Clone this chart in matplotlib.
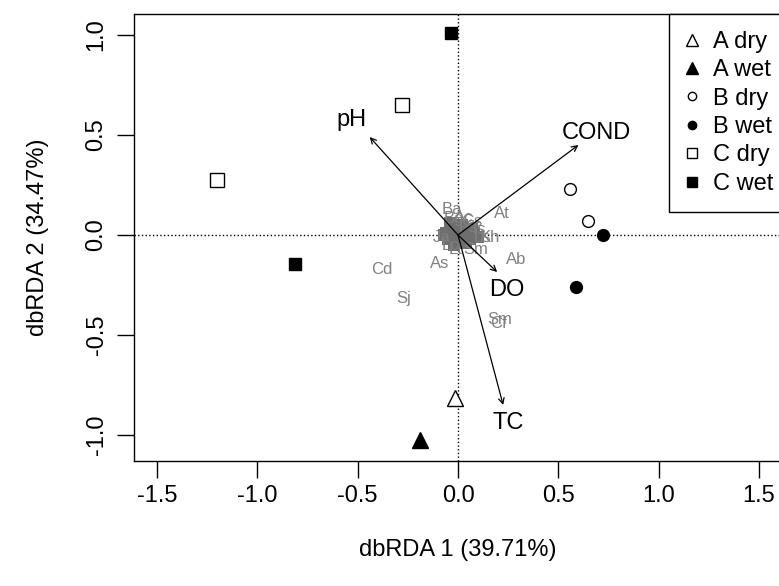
import matplotlib
matplotlib.use("Agg")
import matplotlib.pyplot as plt
from matplotlib.lines import Line2D

plt.rcParams['font.family'] = ['Liberation Sans', 'DejaVu Sans']

# sites
a_dry_x = [-0.015]
a_dry_y = [-0.815]
a_wet_x = [-0.19]
a_wet_y = [-1.025]
b_dry_x = [0.56, 0.65]
b_dry_y = [0.23, 0.07]
b_wet_x = [0.72, 0.59]
b_wet_y = [0.0, -0.26]
c_dry_x = [-1.20, -0.28]
c_dry_y = [0.275, 0.65]
c_wet_x = [-0.035, -0.81]
c_wet_y = [1.01, -0.145]

# environmental vectors
env_names = ["pH", "COND", "DO", "TC"]
env_x = [-0.44, 0.60, 0.195, 0.225]
env_y = [0.49, 0.45, -0.185, -0.85]
env_lab_x = [-0.53, 0.69, 0.245, 0.25]
env_lab_y = [0.575, 0.51, -0.275, -0.94]

# species scores (cluster near origin)
sp_x = [-0.06, -0.04, -0.02, 0.0, 0.02, 0.04, 0.06, -0.05, -0.03, -0.01,
        0.01, 0.03, 0.05, 0.08, -0.07, 0.0, 0.02, 0.10, -0.02, 0.04, 0.07, -0.04]
sp_y = [0.01, 0.03, -0.01, 0.02, 0.0, 0.01, -0.02, -0.02, 0.0, 0.04,
        -0.03, 0.03, 0.0, 0.01, 0.0, -0.04, 0.05, -0.01, -0.05, -0.04, 0.03, 0.06]
sp_names = ["Cd", "Sj", "As", "Ab", "At", "Kh", "Sm", "Cf", "Ba", "Ja",
            "Sm", "Ls", "Lt", "Ac", "Gs", "Bg", "Ps", "Ts", "Lc"]
sp_lab_x = [-0.38, -0.27, -0.09, 0.29, 0.22, 0.16, 0.21, 0.20, -0.03, -0.08,
            0.09, 0.12, -0.01, 0.03, 0.07, -0.02, 0.05, 0.10, -0.04]
sp_lab_y = [-0.17, -0.315, -0.14, -0.125, 0.11, -0.01, -0.425, -0.445, 0.13, -0.01,
            -0.075, -0.01, -0.07, 0.09, 0.07, 0.08, 0.04, 0.03, -0.05]

fig = plt.figure(figsize=(7.79, 5.86), dpi=100)
ax = fig.add_axes([134 / 779, 1 - 461 / 586, (782 - 134) / 779, (461 - 14) / 586])

ax.axhline(0, color='black', ls=':', lw=1, zorder=1)
ax.axvline(0, color='black', ls=':', lw=1, zorder=1)

ax.scatter(sp_x, sp_y, marker='s', s=70, color='#6e6e6e', edgecolors='none', zorder=2)
for n, x, y in zip(sp_names, sp_lab_x, sp_lab_y):
    ax.text(x, y, n, color='#808080', fontsize=12, ha='center', va='center', zorder=2)

for n, x, y, lx, ly in zip(env_names, env_x, env_y, env_lab_x, env_lab_y):
    ax.annotate("", xy=(x, y), xytext=(0, 0),
                arrowprops=dict(arrowstyle='->', color='black', lw=0.9,
                                mutation_scale=10, shrinkA=0, shrinkB=0), zorder=3)
    ax.text(lx, ly, n, fontsize=17, ha='center', va='center', zorder=3)

ax.plot(a_dry_x, a_dry_y, '^', ms=12, mfc='white', mec='black', mew=1, ls='none', zorder=4)
ax.plot(a_wet_x, a_wet_y, '^', ms=12, mfc='black', mec='black', ls='none', zorder=4)
ax.plot(b_dry_x, b_dry_y, 'o', ms=8.5, mfc='white', mec='black', mew=1, ls='none', zorder=4)
ax.plot(b_wet_x, b_wet_y, 'o', ms=8.5, mfc='black', mec='black', ls='none', zorder=4)
ax.plot(c_dry_x, c_dry_y, 's', ms=9.5, mfc='white', mec='black', mew=1, ls='none', zorder=4)
ax.plot(c_wet_x, c_wet_y, 's', ms=9, mfc='black', mec='black', ls='none', zorder=4)

handles = [
    Line2D([], [], marker='^', ms=8.5, mfc='white', mec='black', ls='none'),
    Line2D([], [], marker='^', ms=8.5, mfc='black', mec='black', ls='none'),
    Line2D([], [], marker='o', ms=6, mfc='white', mec='black', ls='none'),
    Line2D([], [], marker='o', ms=6, mfc='black', mec='black', ls='none'),
    Line2D([], [], marker='s', ms=7, mfc='white', mec='black', ls='none'),
    Line2D([], [], marker='s', ms=7, mfc='black', mec='black', ls='none'),
]
labels = ["A dry", "A wet", "B dry", "B wet", "C dry", "C wet"]
leg = ax.legend(handles, labels, loc='upper right', bbox_to_anchor=(1 + 8 / 648, 1),
                fontsize=17, frameon=True,
                fancybox=False, edgecolor='black', framealpha=1, borderaxespad=0,
                handlelength=0.5, handletextpad=0.62, labelspacing=0.27,
                borderpad=0.72)
leg.get_frame().set_linewidth(1)

ax.set_xlim(-1.614, 1.614)
ax.set_ylim(-1.13, 1.105)
ax.set_xticks([-1.5, -1.0, -0.5, 0.0, 0.5, 1.0, 1.5])
ax.set_yticks([-1.0, -0.5, 0.0, 0.5, 1.0])
ax.set_xticklabels(["-1.5", "-1.0", "-0.5", "0.0", "0.5", "1.0", "1.5"])
ax.set_yticklabels(["-1.0", "-0.5", "0.0", "0.5", "1.0"], rotation=90, va='center')
ax.tick_params(direction='out', length=12, width=1, labelsize=17, pad=5)
ax.tick_params(axis='y', pad=7)
for s in ax.spines.values():
    s.set_linewidth(1)

ax.set_xlabel("dbRDA 1 (39.71%)", fontsize=17, labelpad=23)
ax.set_ylabel("dbRDA 2 (34.47%)", fontsize=17, labelpad=26)

fig.savefig("out.png", dpi=100)
